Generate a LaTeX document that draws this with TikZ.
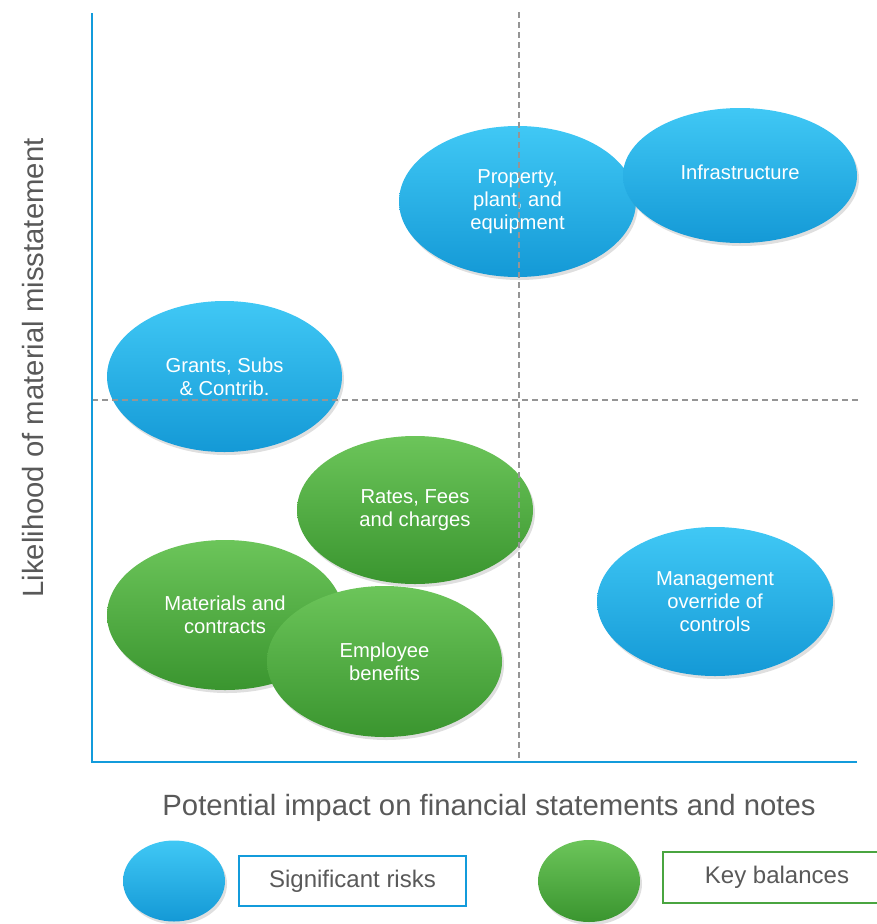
\documentclass[tikz,border=0pt]{standalone}
\usepackage{fontspec}
\setmainfont{Liberation Sans}
\usetikzlibrary{shapes.geometric,shadows}
\definecolor{bTop}{HTML}{40C8F5}
\definecolor{bMid}{HTML}{1DAEE8}
\definecolor{bBot}{HTML}{1499D6}
\definecolor{gTop}{HTML}{6CC55A}
\definecolor{gMid}{HTML}{48A63C}
\definecolor{gBot}{HTML}{3A952F}
\definecolor{axisblue}{HTML}{139BDB}
\definecolor{dashgray}{HTML}{959595}
\definecolor{txtgray}{HTML}{595959}
\definecolor{boxgreen}{HTML}{4AA540}
\tikzset{
  bubble/.style={ellipse, inner sep=0pt, text=white, align=center,
    font=\fontsize{20.2}{23}\selectfont,
    drop shadow={opacity=0.25, shadow xshift=2pt, shadow yshift=-3pt}},
  blueb/.style={bubble, top color=bTop, middle color=bMid, bottom color=bBot},
  greenb/.style={bubble, top color=gTop, middle color=gMid, bottom color=gBot},
  guide/.style={dashgray, line width=2pt, dash pattern=on 6pt off 4pt},
  axisline/.style={axisblue, line width=2.5pt},
  legbox/.style={draw, line width=2pt, fill=white, text=txtgray, font=\fontsize{24}{28}\selectfont}
}
\begin{document}
\begin{tikzpicture}[x=1pt,y=-1pt]
\useasboundingbox (0,0) rectangle (877,924);
% bubbles
\node[blueb, minimum width=237pt, minimum height=151pt] (ppe) at (517.5,201.5) {Property,\\plant, and\\equipment};
\node[blueb, minimum width=234pt, minimum height=135pt] (infra) at (740,175.5) {\raisebox{7pt}{Infrastructure}};
\node[blueb, minimum width=235pt, minimum height=151pt] (grants) at (224.5,376.5) {Grants, Subs\\\& Contrib.};
\node[greenb, minimum width=236pt, minimum height=148pt] (rates) at (415,510) {Rates, Fees\\and charges};
\node[greenb, minimum width=236pt, minimum height=150pt] (mat) at (225,615) {Materials and\\contracts};
\node[greenb, minimum width=235pt, minimum height=151pt] (emp) at (384.5,661.5) {Employee\\benefits};
\node[blueb, minimum width=236pt, minimum height=149pt] (mgmt) at (715,601.5) {Management\\override of\\controls};
% guides
\coordinate (vtop) at (519,12);
\coordinate (vbot) at (519,762);
\coordinate (hl) at (92,400);
\coordinate (hr) at (858,400);
\draw[guide] (vtop) -- (vbot);
\draw[guide] (hl) -- (hr);
% axes
\coordinate (origin) at (92,762);
\coordinate (ytop) at (92,13);
\coordinate (xend) at (857,762);
\draw[axisline] (ytop) -- (origin) -- (xend);
% axis labels
\node[text=txtgray, font=\fontsize{29.3}{33}\selectfont] (xlab) at (489,808) {Potential impact on financial statements and notes};
\node[text=txtgray, font=\fontsize{29.3}{33}\selectfont, rotate=90] (ylab) at (33,368) {Likelihood of material misstatement};
% legend
\node[blueb, minimum width=102pt, minimum height=81pt] (legb) at (174,881) {};
\node[legbox, draw=axisblue, minimum width=227pt, minimum height=50pt] (legbt) at (352.5,881) {Significant risks};
\node[greenb, minimum width=102pt, minimum height=82pt] (legg) at (589,881) {};
\node[legbox, draw=boxgreen, minimum width=228pt, minimum height=51pt] (leggt) at (777,877.5) {Key balances};
\end{tikzpicture}
\end{document}
